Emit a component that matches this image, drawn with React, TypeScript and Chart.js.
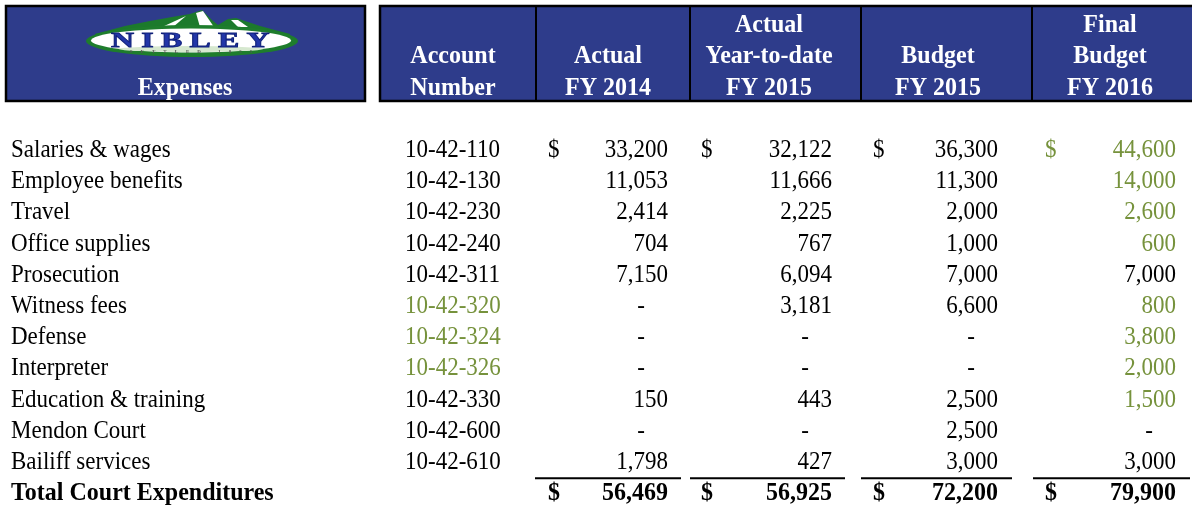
import React, { useEffect, useRef } from "react";
import { Chart, registerables } from "chart.js";

Chart.register(...registerables);

// ---------- data ----------
const categories = [
  "Salaries & wages",
  "Employee benefits",
  "Travel",
  "Office supplies",
  "Prosecution",
  "Witness fees",
  "Defense",
  "Interpreter",
  "Education & training",
  "Mendon Court",
  "Bailiff services",
];
const accountNumbers = [
  "10-42-110",
  "10-42-130",
  "10-42-230",
  "10-42-240",
  "10-42-311",
  "10-42-320",
  "10-42-324",
  "10-42-326",
  "10-42-330",
  "10-42-600",
  "10-42-610",
];
const actualFY2014: (number | null)[] = [33200, 11053, 2414, 704, 7150, null, null, null, 150, null, 1798];
const actualYtdFY2015: (number | null)[] = [32122, 11666, 2225, 767, 6094, 3181, null, null, 443, null, 427];
const budgetFY2015: (number | null)[] = [36300, 11300, 2000, 1000, 7000, 6600, null, null, 2500, 2500, 3000];
const finalBudgetFY2016: (number | null)[] = [44600, 14000, 2600, 600, 7000, 800, 3800, 2000, 1500, null, 3000];
const totalLabel = "Total Court Expenditures";
const totals = [56469, 56925, 72200, 79900];
const greenAccount = [false, false, false, false, false, true, true, true, false, false, false];
const greenFinal = [true, true, true, true, false, true, true, true, true, false, false];
// header lines: [line1, line2, line3] per column
const headerLines = [
  ["", "", "Expenses"],
  ["", "Account", "Number"],
  ["", "Actual", "FY 2014"],
  ["Actual", "Year-to-date", "FY 2015"],
  ["", "Budget", "FY 2015"],
  ["Final", "Budget", "FY 2016"],
];

// ---------- styles / layout ----------
const FONT = '"Liberation Serif", "Times New Roman", serif';
const FONT_SIZE = 25;
const TEXT_SCALE_X = 0.92;
const BOLD_SCALE_X = 0.96;
const BLACK = "#000000";
const GREEN = "#76923c";
const WHITE = "#ffffff";
const HEADER_BG = "#2e3c8b";
const X_LABEL = 11;
const X_ACCOUNT = 405;
const DOLLAR_LEFT = [548, 701, 873, 1045];
const VALUE_RIGHT = [668, 832, 998, 1176];
const DASH_OFFSET = 23;
const HEADER_CENTER = [185, 453, 608, 769, 938, 1110];
const UNDERLINES = [
  [535, 681],
  [690, 845],
  [861, 1012],
  [1033, 1190],
];
const HEADER_BOXES = [
  [6, 365],
  [380, 1196],
];
const HEADER_SEPARATORS = [536, 690, 861, 1032];
const HEADER_TOP = -4.84;
const HEADER_BOTTOM = -1.795;
const UNDERLINE_ROW = 10.3;

type Cell = { x: number; y: number; t: string; c: string; b: boolean; a: CanvasTextAlign };

const fmt = (v: number) => v.toLocaleString("en-US");

function buildCells(): Cell[] {
  const cells: Cell[] = [];
  const cols = [actualFY2014, actualYtdFY2015, budgetFY2015, finalBudgetFY2016];
  headerLines.forEach((lines, ci) => {
    lines.forEach((t, li) => {
      if (t) cells.push({ x: HEADER_CENTER[ci], y: -4 + li, t, c: WHITE, b: true, a: "center" });
    });
  });
  categories.forEach((cat, r) => {
    cells.push({ x: X_LABEL, y: r, t: cat, c: BLACK, b: false, a: "left" });
    cells.push({
      x: X_ACCOUNT,
      y: r,
      t: accountNumbers[r],
      c: greenAccount[r] ? GREEN : BLACK,
      b: false,
      a: "left",
    });
    cols.forEach((col, ci) => {
      const isFinal = ci === 3;
      const color = isFinal && greenFinal[r] ? GREEN : BLACK;
      if (r === 0) cells.push({ x: DOLLAR_LEFT[ci], y: r, t: "$", c: color, b: false, a: "left" });
      const v = col[r];
      if (v === null) {
        cells.push({ x: VALUE_RIGHT[ci] - DASH_OFFSET, y: r, t: "-", c: color, b: false, a: "right" });
      } else {
        cells.push({ x: VALUE_RIGHT[ci], y: r, t: fmt(v), c: color, b: false, a: "right" });
      }
    });
  });
  const tr = categories.length;
  cells.push({ x: X_LABEL, y: tr, t: totalLabel, c: BLACK, b: true, a: "left" });
  totals.forEach((v, ci) => {
    cells.push({ x: DOLLAR_LEFT[ci], y: tr, t: "$", c: BLACK, b: true, a: "left" });
    cells.push({ x: VALUE_RIGHT[ci], y: tr, t: fmt(v), c: BLACK, b: true, a: "right" });
  });
  return cells;
}

function drawLogo(ctx: CanvasRenderingContext2D) {
  ctx.save();
  // mountains
  ctx.fillStyle = "#1c7a2c";
  ctx.beginPath();
  ctx.moveTo(95, 34);
  ctx.lineTo(125, 26);
  ctx.lineTo(150, 21);
  ctx.lineTo(172, 17);
  ctx.lineTo(190, 14);
  ctx.lineTo(202, 10);
  ctx.lineTo(212, 20);
  ctx.lineTo(218, 25);
  ctx.lineTo(228, 19);
  ctx.lineTo(236, 18);
  ctx.lineTo(260, 26);
  ctx.lineTo(290, 34);
  ctx.lineTo(290, 42);
  ctx.lineTo(95, 42);
  ctx.closePath();
  ctx.fill();
  // snow
  ctx.fillStyle = "#ffffff";
  ctx.beginPath();
  ctx.moveTo(162, 27);
  ctx.lineTo(186, 16);
  ctx.lineTo(173, 27);
  ctx.closePath();
  ctx.fill();
  ctx.beginPath();
  ctx.moveTo(196, 13);
  ctx.lineTo(203, 11);
  ctx.lineTo(214, 27);
  ctx.lineTo(200, 27);
  ctx.closePath();
  ctx.fill();
  ctx.beginPath();
  ctx.moveTo(231, 20);
  ctx.lineTo(238, 20);
  ctx.lineTo(248, 27);
  ctx.lineTo(238, 27);
  ctx.closePath();
  ctx.fill();
  // ellipse ring
  ctx.fillStyle = "#1e7d2c";
  ctx.beginPath();
  ctx.ellipse(192, 41, 106, 16, 0, 0, Math.PI * 2);
  ctx.fill();
  ctx.fillStyle = "#ffffff";
  ctx.beginPath();
  ctx.ellipse(191, 40.5, 100, 12, 0, 0, Math.PI * 2);
  ctx.fill();
  ctx.fillStyle = "#d6e8cf";
  ctx.beginPath();
  ctx.ellipse(191, 49, 72, 3, 0, 0, Math.PI * 2);
  ctx.fill();
  // NIBLEY
  ctx.fillStyle = "#2236a8";
  ctx.strokeStyle = "#0e1f78";
  ctx.lineWidth = 0.8;
  ctx.textAlign = "center";
  ctx.textBaseline = "alphabetic";
  ctx.font = `bold 22px ${FONT}`;
  (ctx as any).letterSpacing = "5px";
  ctx.translate(191, 47);
  ctx.scale(1.45, 1);
  ctx.fillText("NIBLEY", 2, 0);
  ctx.strokeText("NIBLEY", 2, 0);
  ctx.restore();
  ctx.save();
  ctx.fillStyle = "#555555";
  ctx.font = `bold 5px ${FONT}`;
  ctx.textAlign = "center";
  (ctx as any).letterSpacing = "8px";
  ctx.fillText("SETTLED 1855", 195, 53);
  ctx.restore();
}

const tablePlugin = {
  id: "tablePlugin",
  beforeDatasetsDraw(chart: any) {
    const ctx: CanvasRenderingContext2D = chart.ctx;
    const xs = chart.scales.x;
    const ys = chart.scales.y;
    ctx.save();
    ctx.fillStyle = "#ffffff";
    ctx.fillRect(0, 0, chart.width, chart.height);
    const top = ys.getPixelForValue(HEADER_TOP);
    const bottom = ys.getPixelForValue(HEADER_BOTTOM);
    HEADER_BOXES.forEach(([l, r]) => {
      const xl = xs.getPixelForValue(l);
      const xr = xs.getPixelForValue(r);
      ctx.fillStyle = HEADER_BG;
      ctx.fillRect(xl, top, xr - xl, bottom - top);
      ctx.strokeStyle = "#000";
      ctx.lineWidth = 2.5;
      ctx.strokeRect(xl, top, xr - xl, bottom - top);
    });
    ctx.strokeStyle = "#000";
    ctx.lineWidth = 2;
    HEADER_SEPARATORS.forEach((s) => {
      const x = xs.getPixelForValue(s);
      ctx.beginPath();
      ctx.moveTo(x, top);
      ctx.lineTo(x, bottom);
      ctx.stroke();
    });
    const uy = ys.getPixelForValue(UNDERLINE_ROW);
    UNDERLINES.forEach(([l, r]) => {
      ctx.beginPath();
      ctx.moveTo(xs.getPixelForValue(l), uy);
      ctx.lineTo(xs.getPixelForValue(r), uy);
      ctx.stroke();
    });
    drawLogo(ctx);
    ctx.restore();
  },
  afterDatasetsDraw(chart: any) {
    const ctx: CanvasRenderingContext2D = chart.ctx;
    chart.data.datasets.forEach((ds: any, di: number) => {
      const meta = chart.getDatasetMeta(di);
      meta.data.forEach((el: any, i: number) => {
        const cell: Cell = ds.data[i];
        ctx.save();
        ctx.textBaseline = "alphabetic";
        ctx.font = `${cell.b ? "bold " : ""}${FONT_SIZE}px ${FONT}`;
        ctx.fillStyle = cell.c;
        ctx.textAlign = cell.a;
        ctx.translate(el.x, el.y);
        ctx.scale(cell.b ? BOLD_SCALE_X : TEXT_SCALE_X, 1);
        ctx.fillText(cell.t, 0, 0);
        ctx.restore();
      });
    });
  },
};

export default function App() {
  const ref = useRef<HTMLCanvasElement | null>(null);
  useEffect(() => {
    if (!ref.current) return;
    const cells = buildCells();
    const chart = new Chart(ref.current, {
      type: "scatter",
      data: {
        datasets: [
          {
            data: cells as any,
            pointRadius: 0,
            pointHoverRadius: 0,
            showLine: false,
          },
        ],
      },
      options: {
        animation: false,
        responsive: false,
        devicePixelRatio: 1,
        layout: { padding: 0 },
        events: [],
        plugins: { legend: { display: false }, tooltip: { enabled: false } },
        scales: {
          x: { type: "linear", display: false, min: 0, max: 1192 },
          y: { type: "linear", display: false, reverse: true, min: -157 / 31.2, max: (506 - 157) / 31.2 },
        },
      },
      plugins: [tablePlugin],
    });
    return () => chart.destroy();
  }, []);
  return (
    <div style={{ position: "absolute", left: 0, top: 0, width: 1192, height: 506, background: "#fff" }}>
      <canvas ref={ref} width={1192} height={506} style={{ width: 1192, height: 506 }} />
    </div>
  );
}
